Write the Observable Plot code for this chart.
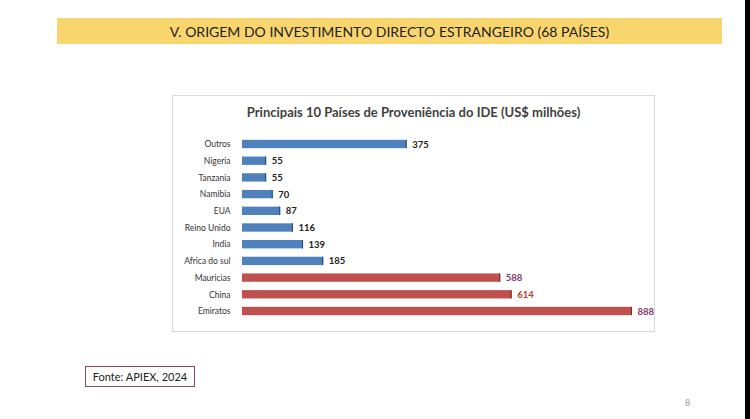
<!DOCTYPE html>
<html><head><meta charset="utf-8">
<script src="https://cdn.jsdelivr.net/npm/d3@7"></script>
<script src="https://cdn.jsdelivr.net/npm/@observablehq/plot@0.6"></script>
<style>
html,body{margin:0;padding:0;background:#fff;}
#page{position:relative;width:750px;height:419px;overflow:hidden;background:#fff;font-family:Lato,"Open Sans",sans-serif;}
#banner{position:absolute;left:57px;top:18px;width:665px;height:26px;background:#f9d56e;color:#222;font-size:14px;line-height:27px;text-align:center;}
#edge{position:absolute;left:745px;top:0;width:5px;height:419px;background:#000;}
#box{position:absolute;left:172px;top:95px;width:481px;height:235px;border:1px solid #d9d9d9;background:#fff;}
#title{position:absolute;left:0;top:8px;width:100%;text-align:center;font-weight:bold;font-size:13px;color:#404040;}
#plot{position:absolute;left:0;top:35px;}
#fonte{position:absolute;left:85px;top:366px;width:108px;height:19px;border:1px solid #8a4a5a;font-size:11px;line-height:19px;text-align:center;color:#222;}
#pg{position:absolute;left:685px;top:397px;font-size:9px;color:#999;}
</style></head>
<body><div id="page">
<div id="banner">V. ORIGEM DO INVESTIMENTO DIRECTO ESTRANGEIRO (68 PAÍSES)</div>
<div id="box"><div id="title">Principais 10 Países de Proveniência do IDE (US$ milhões)</div><div id="plot"></div></div>
<div id="fonte">Fonte: APIEX, 2024</div>
<div id="pg">8</div>
<div id="edge"></div>
</div>
<script>
const countries = ["Outros","Nigeria","Tanzania","Namibia","EUA","Reino Unido","India","Africa do sul","Mauricias","China","Emiratos"];
const values = [375,55,55,70,87,116,139,185,588,614,888];
const groups = ["g1","g1","g1","g1","g1","g1","g1","g1","g2","g2","g2"];
const labelColors = ["#222","#222","#222","#222","#222","#222","#222","#222","#7b3b6b","#c0392b","#7b3b6b"];

const data = countries.map((c,i)=>({country:c, value:values[i], group:groups[i], lc:labelColors[i]}));

const chart = Plot.plot({
  width: 481, height: 195,
  marginLeft: 69, marginRight: 22, marginTop: 4.65, marginBottom: 6.65,
  style:{fontFamily:"Lato, 'Open Sans', sans-serif", background:"transparent"},
  x:{domain:[0,888], axis:null},
  y:{domain:countries, paddingInner:0.5, paddingOuter:0.25, align:0.5, round:false, label:null, axis:null},
  color:{domain:["g1","g2"], range:["#4f81bd","#c0504d"]},
  marks:[
    Plot.barX(data,{x:"value", y:"country", fill:"group"}),
    Plot.barX(data,{x1:d=>d.value-2.5, x2:"value", y:"country", fill:d=>d.group==="g1"?"#2c4d75":"#772c2a"}),
    Plot.text(data,{x:"value", y:"country", text:d=>String(d.value), dx:5, textAnchor:"start", fill:"lc", fontSize:9.5, fontWeight:"bold"}),
    Plot.axisY({tickSize:0, tickPadding:12, fontSize:8.5, label:null, color:"#333"})
  ]
});
document.getElementById("plot").appendChild(chart);
</script>
</body></html>
